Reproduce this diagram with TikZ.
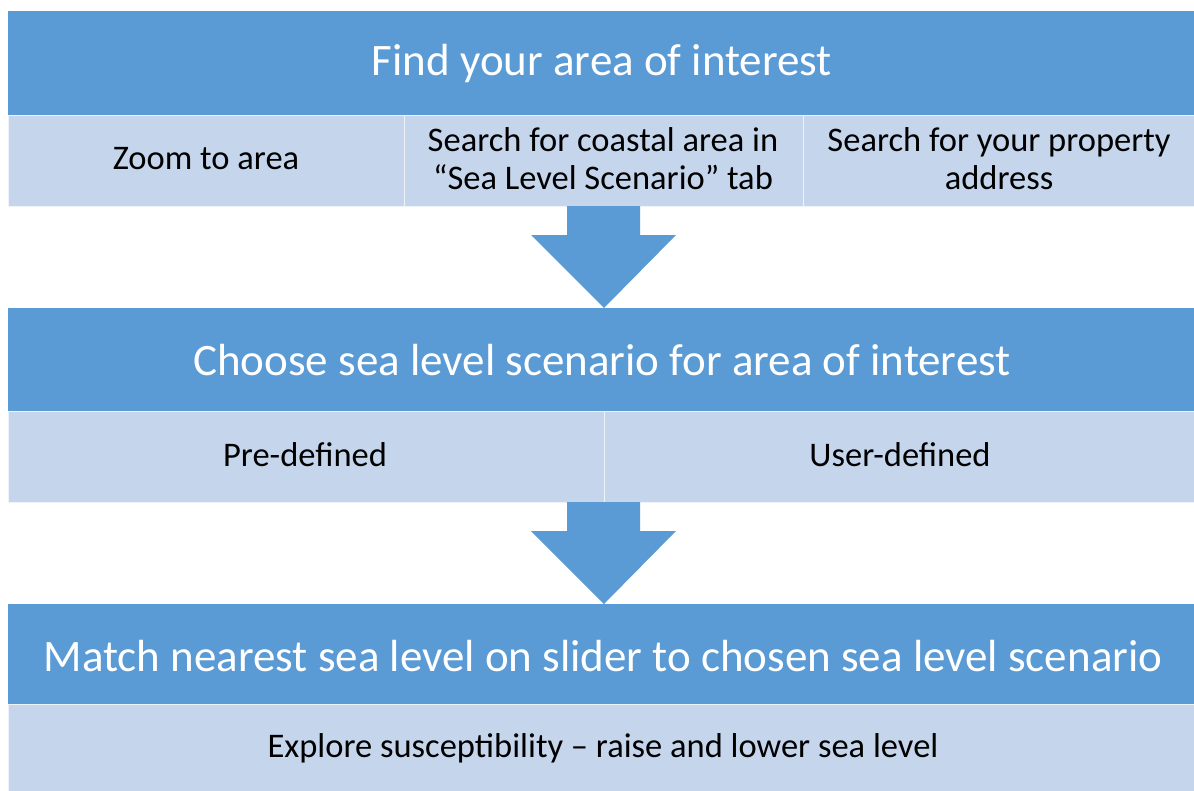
\documentclass[tikz,border=0pt]{standalone}
\usepackage{fontspec}
\setmainfont{Carlito}
\definecolor{hdrblue}{RGB}{91,155,213}
\definecolor{subblue}{RGB}{197,214,236}
\begin{document}
\begin{tikzpicture}[x=1pt,y=-1pt,
  hdr/.style={fill=hdrblue,draw=none},
  subcell/.style={fill=subblue,draw=white!70!subblue,line width=1pt},
  hdrtext/.style={text=white,font=\fontsize{45}{54}\selectfont,inner sep=0pt},
  subtext/.style={text=black,font=\fontsize{34.5}{38}\selectfont,align=center,inner sep=0pt},
  bigarrow/.style={fill=hdrblue,draw=none}]
\useasboundingbox (0,0) rectangle (1194,790);
\fill[white] (0,0) rectangle (1194,790);
% Box 1
\path[hdr] (8,11) rectangle (1194,115);
\node[hdrtext] (h1) at (602,64) {Find your area of interest};
\path[subcell] (8,115) rectangle (404,206);
\path[subcell] (404,115) rectangle (803,206);
\path[subcell] (803,115) rectangle (1194,206);
\node[subtext] (s11) at (206,159) {Zoom to area};
\node[subtext] (s12) at (603,159) {Search for coastal area in\\“Sea Level Scenario” tab};
\node[subtext] (s13) at (999,159) {Search for your property\\address};
% Arrow 1
\path[bigarrow] (567,206) -- (640,206) -- (640,235) -- (676,235) -- (604,308) -- (531,235) -- (567,235) -- cycle;
% Box 2
\path[hdr] (8,308) rectangle (1194,411);
\node[hdrtext] (h2) at (602,360) {Choose sea level scenario for area of interest};
\path[subcell] (8,411) rectangle (604,502);
\path[subcell] (604,411) rectangle (1194,502);
\node[subtext] (s21) at (305,455) {Pre-defined};
\node[subtext] (s22) at (900,455) {User-defined};
% Arrow 2
\path[bigarrow] (567,502) -- (640,502) -- (640,531) -- (676,531) -- (604,604) -- (531,531) -- (567,531) -- cycle;
% Box 3
\path[hdr] (8,604) rectangle (1194,704);
\node[hdrtext] (h3) at (603,656) {Match nearest sea level on slider to chosen sea level scenario};
\path[subcell] (8,704) rectangle (1194,792);
\node[subtext] (s31) at (603,748) {Explore susceptibility – raise and lower sea level};
\end{tikzpicture}
\end{document}
